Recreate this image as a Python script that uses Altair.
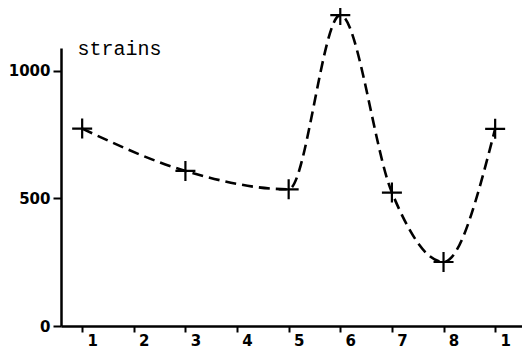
import altair as alt
import pandas as pd

# data
months = [1, 3, 5, 6, 7, 8, 9]
strains = [774, 608, 536, 1219, 523, 251, 773]
x_tick_values = [1, 2, 3, 4, 5, 6, 7, 8, 9]
x_tick_labels = ["1", "2", "3", "4", "5", "6", "7", "8", "1"]
y_tick_values = [0, 500, 1000]

df = pd.DataFrame({"month": months, "strains": strains})

label_array = "[" + ",".join("'" + s + "'" for s in x_tick_labels) + "]"

x_enc = alt.X(
    "month:Q",
    scale=alt.Scale(domain=[0.59, 9.52], nice=False, zero=False),
    axis=alt.Axis(
        values=x_tick_values,
        labelExpr=label_array + "[datum.value - 1]",
        title=None,
        grid=False,
        domainColor="black",
        domainWidth=2.5,
        tickColor="black",
        tickWidth=2,
        tickSize=6,
        labelPadding=1,
        labelOffset=10,
        labelFont="DejaVu Sans",
        labelFontWeight="bold",
        labelFontSize=15,
        labelColor="black",
        labelFlush=False,
    ),
)
y_enc = alt.Y(
    "strains:Q",
    scale=alt.Scale(domain=[0, 1090], nice=False),
    axis=alt.Axis(
        values=y_tick_values,
        format="d",
        title="strains",
        titleAngle=0,
        titleAlign="left",
        titleBaseline="alphabetic",
        titleX=16,
        titleY=6,
        titleFont="Liberation Mono",
        titleFontSize=20,
        titleFontWeight="normal",
        titleColor="black",
        grid=False,
        domainColor="black",
        domainWidth=2.5,
        tickColor="black",
        tickWidth=2,
        tickSize=8,
        labelPadding=3,
        labelFont="DejaVu Sans",
        labelFontWeight="bold",
        labelFontSize=15,
        labelColor="black",
        labelFlush=False,
    ),
)

base = alt.Chart(df).encode(x=x_enc, y=y_enc)

line = base.mark_line(
    color="black",
    strokeWidth=2.6,
    strokeDash=[11, 6],
    interpolate="monotone",
)

points = base.mark_point(
    shape="M-1,0L1,0M0,-1L0,1",
    size=400,
    filled=False,
    color="black",
    strokeWidth=2.2,
    opacity=1,
)

chart = (
    alt.layer(line, points)
    .properties(
        width=461,
        height=278,
        autosize=alt.AutoSizeParams(type="none"),
        padding={"left": 53, "top": 40, "right": 0, "bottom": 23},
        background="white",
    )
    .configure_view(stroke=None)
)

chart.save("out.html", embed_options={"renderer": "svg", "actions": False})
